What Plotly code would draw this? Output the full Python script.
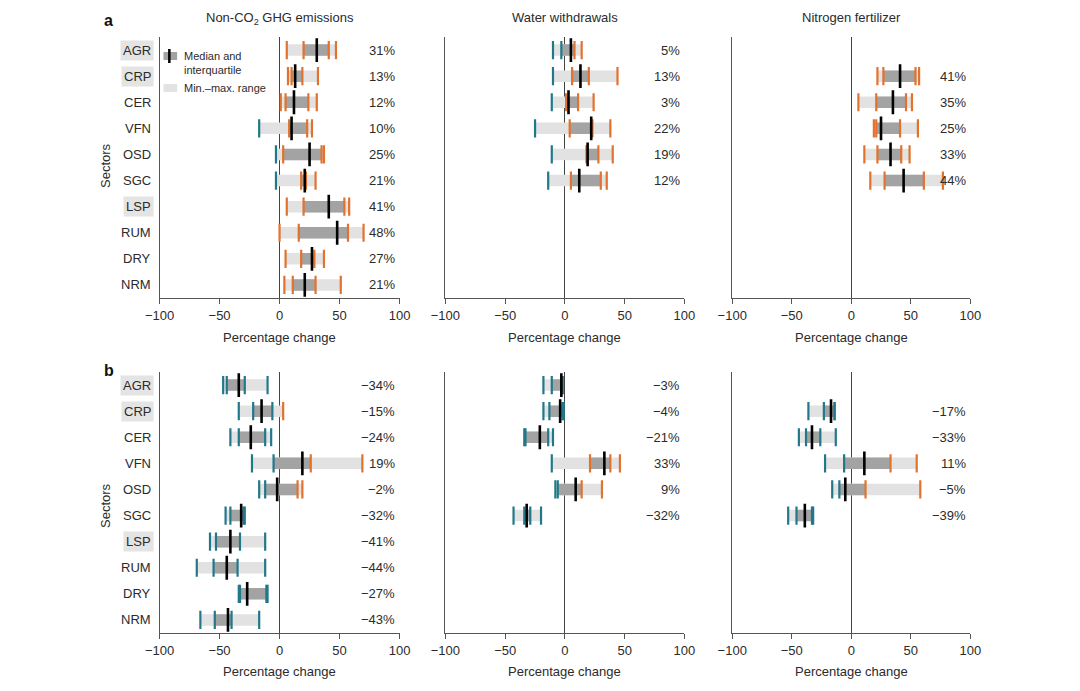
import plotly.graph_objects as go
from plotly.subplots import make_subplots

# ---- data ----
sectors = ["AGR", "CRP", "CER", "VFN", "OSD", "SGC", "LSP", "RUM", "DRY", "NRM"]
boxed_sectors = ["AGR", "CRP", "LSP"]
water_sectors = ["AGR", "CRP", "CER", "VFN", "OSD", "SGC"]
nitro_sectors = ["CRP", "CER", "VFN", "OSD", "SGC"]

panel_titles = ["Non-CO<sub>2</sub> GHG emissions", "Water withdrawals", "Nitrogen fertilizer"]
tick_vals = [-100, -50, 0, 50, 100]
tick_text = ["\u2212100", "\u221250", "0", "50", "100"]

# panel a
ghg_a_min = [6, 7, 1, -17, -3, -3, 6, 0, 5, 4]
ghg_a_q1 = [20, 10, 5, 8, 3, 18, 20, 16, 18, 11]
ghg_a_med = [31, 13, 12, 10, 25, 21, 41, 48, 27, 21]
ghg_a_q3 = [41, 19, 24, 23, 35, 22, 54, 57, 29, 30]
ghg_a_max = [47, 32, 31, 27, 37, 30, 58, 70, 37, 51]

water_a_min = [-10, -10, -11, -25, -11, -14]
water_a_q1 = [-3, 6, 1, 4, 18, 5]
water_a_med = [5, 13, 3, 22, 19, 12]
water_a_q3 = [8, 20, 11, 23, 28, 30]
water_a_max = [14, 44, 24, 38, 40, 35]

nitro_a_min = [22, 6, 19, 11, 16]
nitro_a_q1 = [27, 21, 21, 22, 28]
nitro_a_med = [41, 35, 25, 33, 44]
nitro_a_q3 = [54, 46, 41, 42, 61]
nitro_a_max = [57, 51, 56, 49, 77]

# panel b
ghg_b_min = [-47, -34, -41, -23, -17, -45, -58, -69, -34, -66]
ghg_b_q1 = [-44, -22, -34, -5, -12, -41, -53, -55, -33, -54]
ghg_b_med = [-34, -15, -24, 19, -2, -32, -41, -44, -27, -43]
ghg_b_q3 = [-29, -6, -12, 26, 15, -30, -33, -35, -11, -40]
ghg_b_max = [-10, 3, -7, 69, 19, -29, -12, -12, -10, -17]

water_b_min = [-18, -18, -34, -11, -8, -43]
water_b_q1 = [-11, -13, -33, 21, -6, -34]
water_b_med = [-3, -4, -21, 33, 9, -32]
water_b_q3 = [-2, -2, -14, 38, 14, -29]
water_b_max = [-2, -1, -10, 46, 31, -20]

nitro_b_min = [-36, -44, -22, -16, -53]
nitro_b_q1 = [-23, -38, -6, -10, -46]
nitro_b_med = [-17, -33, 11, -5, -39]
nitro_b_q3 = [-14, -26, 33, 12, -33]
nitro_b_max = [-14, -13, 55, 58, -32]

# ---- style ----
FONT = "Liberation Sans, Arial, sans-serif"
TXT = "#2b2b2b"
AXC = "#555555"
LIGHT = "#e2e2e2"
DARK = "#a3a3a3"
ORANGE = "#e2722e"
TEAL = "#22788a"

panels = [
    (1, 1, sectors, ghg_a_min, ghg_a_q1, ghg_a_med, ghg_a_q3, ghg_a_max),
    (1, 2, water_sectors, water_a_min, water_a_q1, water_a_med, water_a_q3, water_a_max),
    (1, 3, nitro_sectors, nitro_a_min, nitro_a_q1, nitro_a_med, nitro_a_q3, nitro_a_max),
    (2, 1, sectors, ghg_b_min, ghg_b_q1, ghg_b_med, ghg_b_q3, ghg_b_max),
    (2, 2, water_sectors, water_b_min, water_b_q1, water_b_med, water_b_q3, water_b_max),
    (2, 3, nitro_sectors, nitro_b_min, nitro_b_q1, nitro_b_med, nitro_b_q3, nitro_b_max),
]

# the page has an 8px body margin: keep the figure inside the window
OFF = 8
W, H = 1080 - 2 * OFF, 691 - 2 * OFF


def px(p):
    return (p - OFF) / W


def py(p):
    return 1 - (p - OFF) / H


x_domains = [(px(148), px(394)), (px(441), px(686)), (px(735), px(979))]
y_domains = [(py(298), py(37)), (py(633), py(372))]

fig = make_subplots(rows=2, cols=3)


def pct(v):
    return f"{v}%".replace("-", "\u2212")


annotations = []
for row, col, secs, mn, q1, med, q3, mx in panels:
    # min-max range
    fig.add_trace(go.Bar(orientation="h", y=secs, base=mn,
                         x=[b - a for a, b in zip(mn, mx)],
                         width=0.44, marker=dict(color=LIGHT, line=dict(width=0)),
                         showlegend=False, hoverinfo="skip"), row=row, col=col)
    # interquartile
    fig.add_trace(go.Bar(orientation="h", y=secs, base=q1,
                         x=[b - a for a, b in zip(q1, q3)],
                         width=0.44, marker=dict(color=DARK, line=dict(width=0)),
                         showlegend=False, hoverinfo="skip"), row=row, col=col)
    # coloured ticks at min, q1, q3, max
    pos_x, pos_y, neg_x, neg_y = [], [], [], []
    for s, vals in zip(secs, zip(mn, q1, q3, mx)):
        for v in vals:
            if v >= 0:
                pos_x.append(v); pos_y.append(s)
            else:
                neg_x.append(v); neg_y.append(s)
    for xs, ys, c in [(pos_x, pos_y, ORANGE), (neg_x, neg_y, TEAL)]:
        fig.add_trace(go.Scatter(x=xs, y=ys, mode="markers",
                                 marker=dict(symbol="line-ns", size=13,
                                             line=dict(width=2.2, color=c)),
                                 showlegend=False, hoverinfo="skip"), row=row, col=col)
    # median
    fig.add_trace(go.Scatter(x=med, y=secs, mode="markers",
                             marker=dict(symbol="line-ns", size=17,
                                         line=dict(width=2.6, color="black")),
                             showlegend=False, hoverinfo="skip"), row=row, col=col)

    idx = (row - 1) * 3 + col
    xr = "x" if idx == 1 else f"x{idx}"
    yr = "y" if idx == 1 else f"y{idx}"
    for s, m in zip(secs, med):
        annotations.append(dict(x=98, y=s, xref=xr, yref=yr, text=pct(m),
                                xanchor="right", yanchor="middle", showarrow=False,
                                font=dict(size=13, color=TXT)))

    fig.update_xaxes(domain=x_domains[col - 1], range=[-100, 100],
                     tickvals=tick_vals, ticktext=tick_text,
                     showline=True, linecolor=AXC, linewidth=1,
                     ticks="outside", ticklen=5, tickcolor=AXC,
                     showgrid=False, zeroline=True, zerolinecolor="#444444",
                     zerolinewidth=1.2, tickfont=dict(size=13, color=TXT),
                     row=row, col=col)
    fig.update_yaxes(domain=y_domains[row - 1], type="category",
                     categoryorder="array", categoryarray=sectors,
                     range=[9.5, -0.5], showline=True, linecolor=AXC,
                     linewidth=1, showticklabels=False, ticks="",
                     showgrid=False, zeroline=False, row=row, col=col)

# sector labels on the left
for yr in ["y", "y4"]:
    for s in sectors:
        annotations.append(dict(x=px(142), y=s, xref="paper", yref=yr, text=s,
                                xanchor="right", yanchor="middle", showarrow=False,
                                bgcolor="#e4e4e4" if s in boxed_sectors else None,
                                borderpad=2, font=dict(size=13, color=TXT)))

# column titles
for (x0, x1), t in zip(x_domains, panel_titles):
    annotations.append(dict(x=(x0 + x1) / 2, y=1, xref="paper", yref="paper",
                            text=t, xanchor="center", yanchor="top",
                            showarrow=False, font=dict(size=13, color=TXT)))

# axis titles
for (x0, x1) in x_domains:
    for yy in [py(337), py(671)]:
        annotations.append(dict(x=(x0 + x1) / 2, y=yy, xref="paper", yref="paper",
                                text="Percentage change", xanchor="center",
                                yanchor="middle", showarrow=False,
                                font=dict(size=13, color=TXT)))
for yy in [py(165), py(505)]:
    annotations.append(dict(x=px(92), y=yy, xref="paper", yref="paper",
                            text="Sectors", textangle=-90, xanchor="center",
                            yanchor="middle", showarrow=False,
                            font=dict(size=13, color=TXT)))

# panel letters
for letter, yy in [("a", py(20)), ("b", py(370))]:
    annotations.append(dict(x=px(96), y=yy, xref="paper", yref="paper",
                            text=f"<b>{letter}</b>", xanchor="center",
                            yanchor="middle", showarrow=False,
                            font=dict(size=16, color="#111111")))

# legend (drawn by hand)
shapes = [
    dict(type="rect", xref="paper", yref="paper", x0=px(152), x1=px(166),
         y0=py(60), y1=py(52), fillcolor=DARK, line=dict(width=0)),
    dict(type="line", xref="paper", yref="paper", x0=px(158), x1=px(158),
         y0=py(63), y1=py(49), line=dict(color="black", width=2.5)),
    dict(type="rect", xref="paper", yref="paper", x0=px(152), x1=px(166),
         y0=py(92), y1=py(84), fillcolor=LIGHT, line=dict(width=0)),
]
annotations.append(dict(x=px(171), y=py(63), xref="paper", yref="paper",
                        text="Median and<br>interquartile", align="left",
                        xanchor="left", yanchor="middle", showarrow=False,
                        font=dict(size=11, color=TXT)))
annotations.append(dict(x=px(171), y=py(88), xref="paper", yref="paper",
                        text="Min.\u2013max. range", xanchor="left",
                        yanchor="middle", showarrow=False,
                        font=dict(size=11, color=TXT)))

fig.update_layout(
    width=W, height=H,
    margin=dict(l=0, r=0, t=0, b=0),
    barmode="overlay",
    plot_bgcolor="white", paper_bgcolor="white",
    font=dict(family=FONT, color=TXT),
    annotations=annotations, shapes=shapes,
    showlegend=False,
)

fig.write_html("out.html")
